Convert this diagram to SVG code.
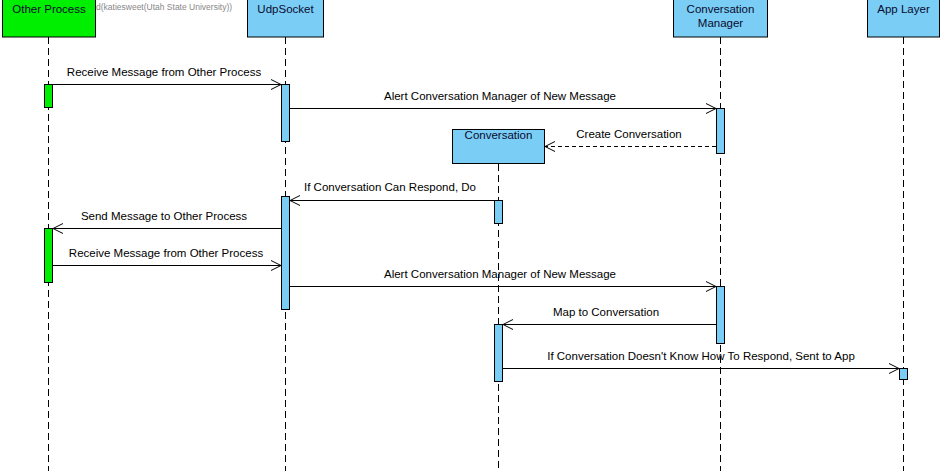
<svg xmlns="http://www.w3.org/2000/svg" width="945" height="471" viewBox="0 0 945 471">
<defs>
<style>
.life{stroke:#000;stroke-width:1;stroke-dasharray:7,4;fill:none}
.box{stroke:#000;stroke-width:1}
.blue{fill:#7acdf4}
.green{fill:#00ee00}
.name{font-family:"Liberation Sans",Arial,sans-serif;font-size:11.5px;fill:#0a0a30;text-anchor:middle}
.lbl{font-family:"Liberation Sans",Arial,sans-serif;font-size:11.5px;fill:#000;text-anchor:middle}
.msg{stroke:#000;stroke-width:1;fill:none}
.dash{stroke-dasharray:4,3}
.wm{font-family:"Liberation Sans",Arial,sans-serif;font-size:8.5px;fill:#888}
</style>
<marker id="open" markerWidth="12" markerHeight="12" refX="11" refY="6" orient="auto" markerUnits="userSpaceOnUse">
<path d="M1,1 L11,6 L1,11" fill="none" stroke="#000" stroke-width="1"/>
</marker>
</defs>
<rect width="945" height="471" fill="#fff"/>
<text class="wm" x="96" y="10">d(katiesweet(Utah State University))</text>

<g id="lifelines">
<line class="life" x1="48.5" y1="37" x2="48.5" y2="471"/>
<line class="life" x1="285.5" y1="37" x2="285.5" y2="471"/>
<line class="life" x1="720.5" y1="37" x2="720.5" y2="471"/>
<line class="life" x1="903.5" y1="37" x2="903.5" y2="471"/>
<line class="life" x1="498.5" y1="164" x2="498.5" y2="471"/>
</g>

<g id="other-process">
<rect class="box green" x="2.5" y="-1" width="93" height="38"/>
<text class="name" x="49" y="13">Other Process</text>
<rect class="box green" x="44.5" y="84.5" width="8" height="23"/>
<rect class="box green" x="44.5" y="228.5" width="8" height="54"/>
</g>

<g id="udpsocket">
<rect class="box blue" x="247.5" y="-1" width="76" height="38"/>
<text class="name" x="285.5" y="13">UdpSocket</text>
<rect class="box blue" x="281.5" y="84.5" width="8" height="57"/>
<rect class="box blue" x="281.5" y="196.5" width="8" height="113"/>
</g>

<g id="conversation-manager">
<rect class="box blue" x="673.5" y="-1" width="94" height="38"/>
<text class="name" x="720.5" y="13">Conversation</text>
<text class="name" x="720.5" y="27">Manager</text>
<rect class="box blue" x="716.5" y="108.5" width="8" height="45"/>
<rect class="box blue" x="716.5" y="286.5" width="8" height="57"/>
</g>

<g id="app-layer">
<rect class="box blue" x="867.5" y="-1" width="72" height="38"/>
<text class="name" x="903.5" y="13">App Layer</text>
<rect class="box blue" x="899.5" y="368.5" width="8" height="11"/>
</g>

<g id="conversation">
<rect class="box blue" x="452.5" y="129.5" width="92" height="34"/>
<text class="name" x="498.5" y="139">Conversation</text>
<rect class="box blue" x="494.5" y="200.5" width="8" height="23"/>
<rect class="box blue" x="494.5" y="324.5" width="8" height="57"/>
</g>

<g id="connectors">
<line class="msg" x1="53" y1="84.5" x2="281" y2="84.5" marker-end="url(#open)"/>
<text class="lbl" x="164" y="76">Receive Message from Other Process</text>

<line class="msg" x1="290" y1="108.5" x2="716" y2="108.5" marker-end="url(#open)"/>
<text class="lbl" x="500" y="100">Alert Conversation Manager of New Message</text>

<line class="msg dash" x1="716" y1="146.5" x2="545" y2="146.5" marker-end="url(#open)"/>
<text class="lbl" x="629" y="138">Create Conversation</text>

<line class="msg" x1="494" y1="200.5" x2="290" y2="200.5" marker-end="url(#open)"/>
<text class="lbl" x="390" y="191">If Conversation Can Respond, Do</text>

<line class="msg" x1="281" y1="228.5" x2="53" y2="228.5" marker-end="url(#open)"/>
<text class="lbl" x="164" y="220">Send Message to Other Process</text>

<line class="msg" x1="53" y1="265.5" x2="281" y2="265.5" marker-end="url(#open)"/>
<text class="lbl" x="166" y="257">Receive Message from Other Process</text>

<line class="msg" x1="290" y1="286.5" x2="716" y2="286.5" marker-end="url(#open)"/>
<text class="lbl" x="500" y="278">Alert Conversation Manager of New Message</text>

<line class="msg" x1="716" y1="324.5" x2="503" y2="324.5" marker-end="url(#open)"/>
<text class="lbl" x="606" y="316">Map to Conversation</text>

<line class="msg" x1="503" y1="368.5" x2="899" y2="368.5" marker-end="url(#open)"/>
<text class="lbl" x="701" y="360">If Conversation Doesn't Know How To Respond, Sent to App</text>
</g>
</svg>
